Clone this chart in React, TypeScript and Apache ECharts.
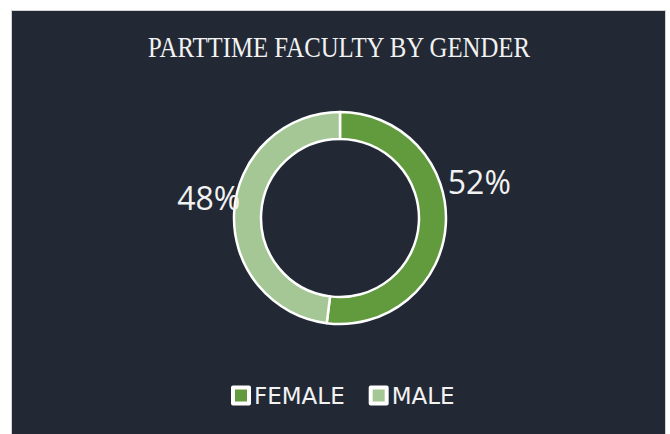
import React, { useEffect, useRef } from "react";
import * as echarts from "echarts";

const categories = ["FEMALE", "MALE"];
const values = [52, 48];
const colors = ["#629b3e", "#a4c795"];
const titleText = "PARTTIME FACULTY BY GENDER";

export default function App() {
  const ref = useRef<HTMLDivElement>(null);
  useEffect(() => {
    if (!ref.current) return;
    const chart = echarts.init(ref.current, undefined, { renderer: "svg" });
    chart.setOption({
      animation: false,
      backgroundColor: "#222935",
      graphic: [
        {
          type: "text",
          x: 327,
          y: 36,
          scaleX: 0.87,
          style: {
            text: titleText,
            fill: "#f2f2f2",
            fontFamily: "Liberation Serif",
            fontSize: 28.5,
            align: "center",
            verticalAlign: "middle",
          },
        },
      ],
      legend: {
        data: categories,
        bottom: 31,
        left: 214,
        icon: "rect",
        itemWidth: 16,
        itemHeight: 16,
        itemGap: 24,
        itemStyle: { borderColor: "#ffffff", borderWidth: 4 },
        textStyle: {
          color: "#f2f2f2",
          fontFamily: "DejaVu Sans",
          fontSize: 23,
          padding: [0, 0, 0, 0],
        },
      },
      series: [
        {
          type: "pie",
          center: [328, 207],
          radius: [79, 106],
          startAngle: 90,
          clockwise: true,
          itemStyle: { borderColor: "#ffffff", borderWidth: 2.5 },
          label: {
            show: true,
            position: "outside",
            formatter: "{d}%",
            color: "#f2f2f2",
            fontFamily: "Open Sans",
            fontSize: 32,
          },
          labelLine: { show: false, length: 0, length2: 0 },
          labelLayout: (p: any) =>
            p.dataIndex === 0 ? { dx: -3, dy: -43 } : { dx: 11, dy: -14 },
          emphasis: { disabled: true },
          data: categories.map((c, i) => ({
            name: c,
            value: values[i],
            itemStyle: { color: colors[i] },
          })),
        },
      ],
    });
    return () => chart.dispose();
  }, []);
  return (
    <div
      style={{
        position: "fixed",
        left: 0,
        top: 0,
        width: 670,
        height: 434,
        background: "#ffffff",
        overflow: "hidden",
      }}
    >
      <div
        style={{
          position: "absolute",
          left: 11,
          top: 10,
          width: 655,
          height: 434,
          boxSizing: "border-box",
          border: "1px solid #d4d4d4",
          background: "#222935",
        }}
      >
        <div ref={ref} style={{ width: 653, height: 432 }} />
      </div>
    </div>
  );
}
